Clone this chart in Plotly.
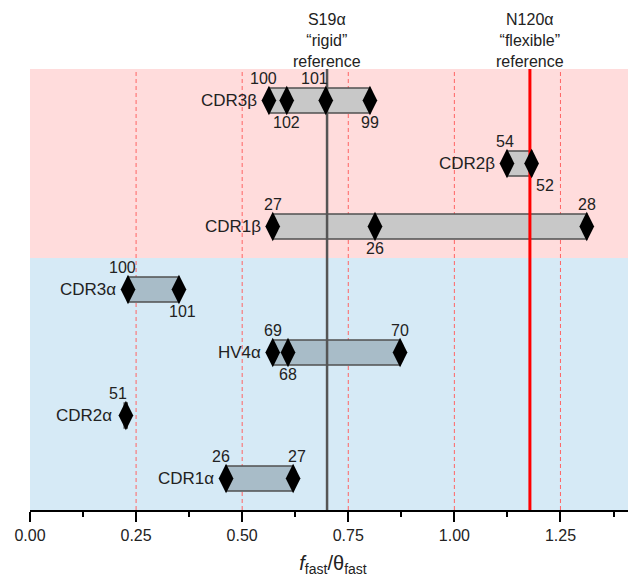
import plotly.graph_objects as go

# ---- data ----
categories = ["CDR1α", "CDR2α", "HV4α", "CDR3α", "CDR1β", "CDR2β", "CDR3β"]
chain = ["alpha", "alpha", "alpha", "alpha", "beta", "beta", "beta"]
bar_start = [0.462, 0.222, 0.572, 0.231, 0.572, 1.124, 0.563]
bar_end = [0.620, 0.229, 0.872, 0.351, 1.312, 1.182, 0.801]

residue_values = [
    [0.462, 0.620],
    [0.226],
    [0.572, 0.608, 0.872],
    [0.231, 0.351],
    [0.572, 0.813, 1.312],
    [1.124, 1.182],
    [0.563, 0.605, 0.697, 0.801],
]
residue_labels = [
    ["26", "27"],
    ["51"],
    ["69", "68", "70"],
    ["100", "101"],
    ["27", "26", "28"],
    ["54", "52"],
    ["100", "102", "101", "99"],
]
label_side = [
    ["above", "above"],
    ["above"],
    ["above", "below", "above"],
    ["above", "below"],
    ["above", "below", "above"],
    ["above", "below"],
    ["above", "below", "above", "below"],
]

rigid_ref = 0.70
flexible_ref = 1.178
grid_lines = [0.25, 0.50, 0.75, 1.00, 1.25]
x_max = 1.428

FONT = "Liberation Sans, Arial, sans-serif"
TXT = "#222222"
fill = {"alpha": "#a8bcc8", "beta": "#c8c8c8"}

# small horizontal nudges of a few residue labels (pixels), as in the reference
label_nudge = {("CDR3β", "101"): -11, ("CDR3β", "100"): -5, ("CDR3α", "100"): -6,
               ("CDR2α", "51"): -8, ("CDR1α", "26"): -5, ("CDR1α", "27"): 4,
               ("CDR2β", "52"): 13, ("CDR2β", "54"): -2, ("CDR3α", "101"): 4}

ypos = list(range(1, len(categories) + 1))

fig = go.Figure()

# bars
fig.add_trace(go.Bar(
    y=ypos,
    x=[e - s for s, e in zip(bar_start, bar_end)],
    base=bar_start,
    orientation="h",
    width=0.4,
    marker=dict(color=[fill[c] for c in chain], line=dict(color="#505050", width=1.5)),
    hoverinfo="skip",
    showlegend=False,
))

# reference lines
fig.add_trace(go.Scatter(x=[rigid_ref, rigid_ref], y=[0.5, 7.5], mode="lines",
                         line=dict(color="#555555", width=2.5), showlegend=False, hoverinfo="skip"))
fig.add_trace(go.Scatter(x=[flexible_ref, flexible_ref], y=[0.5, 7.5], mode="lines",
                         line=dict(color="#ff0000", width=3), showlegend=False, hoverinfo="skip"))

# diamonds
dx, dy = [], []
for y, vals in zip(ypos, residue_values):
    for v in vals:
        dx.append(v)
        dy.append(y)
fig.add_trace(go.Scatter(x=dx, y=dy, mode="markers",
                         marker=dict(symbol="diamond-tall", size=21, color="black",
                                     line=dict(width=0)),
                         showlegend=False, hoverinfo="skip"))

shapes = [
    dict(type="rect", xref="paper", yref="y", x0=0, x1=1, y0=4.5, y1=7.5,
         fillcolor="#ffdcdc", line=dict(width=0), layer="below"),
    dict(type="rect", xref="paper", yref="y", x0=0, x1=1, y0=0.5, y1=4.5,
         fillcolor="#d6eaf6", line=dict(width=0), layer="below"),
]
for g in grid_lines:
    shapes.append(dict(type="line", xref="x", yref="y", x0=g, x1=g, y0=0.5, y1=7.5,
                       line=dict(color="#ff6464", width=1, dash="4px,3px"), layer="below"))

annotations = []
for y, cat, s in zip(ypos, categories, bar_start):
    annotations.append(dict(x=s, y=y, xref="x", yref="y", text=cat, showarrow=False,
                            xanchor="right", yanchor="middle", xshift=-10,
                            font=dict(family=FONT, size=17, color=TXT)))
for y, cat, vals, labs, sides in zip(ypos, categories, residue_values, residue_labels, label_side):
    for v, l, sd in zip(vals, labs, sides):
        shift = 22 if sd == "above" else -22
        xs = label_nudge.get((cat, l), 0)
        annotations.append(dict(x=v, y=y, xref="x", yref="y", text=l, showarrow=False,
                                xanchor="center", yanchor="middle", yshift=shift, xshift=xs,
                                font=dict(family=FONT, size=16, color=TXT)))

annotations.append(dict(x=rigid_ref, y=1, xref="x", yref="paper", yanchor="bottom",
                        text="S19α<br>“rigid”<br>reference", showarrow=False, yshift=-3,
                        font=dict(family=FONT, size=16, color=TXT)))
annotations.append(dict(x=flexible_ref, y=1, xref="x", yref="paper", yanchor="bottom",
                        text="N120α<br>“flexible”<br>reference", showarrow=False, yshift=-3,
                        font=dict(family=FONT, size=16, color=TXT)))

# page body has an 8px margin, so the figure is placed at (8, 8) in the window
fig.update_layout(
    width=628, height=571,
    margin=dict(l=22, r=0, t=61, b=69, autoexpand=False),
    paper_bgcolor="white", plot_bgcolor="white",
    shapes=shapes, annotations=annotations,
    barmode="overlay",
    font=dict(family=FONT, size=16, color=TXT),
    showlegend=False,
)
fig.update_xaxes(
    range=[0, x_max], showgrid=False, zeroline=False, automargin=False,
    showline=True, linecolor="black", linewidth=2,
    ticks="outside", ticklen=10, tickwidth=2, tickcolor="black",
    tick0=0, dtick=0.25, tickformat=".2f",
    tickfont=dict(family=FONT, size=16, color=TXT),
    minor=dict(ticks="outside", dtick=0.125, ticklen=5, tickwidth=2, tickcolor="black"),
    title=dict(text="<i>f</i><sub>fast</sub>/θ<sub>fast</sub>",
               font=dict(family=FONT, size=20, color=TXT), standoff=13),
)
fig.update_yaxes(range=[0.5, 7.5], showgrid=False, zeroline=False, showline=False,
                 showticklabels=False, ticks="", automargin=False)

fig.write_html("out.html")
